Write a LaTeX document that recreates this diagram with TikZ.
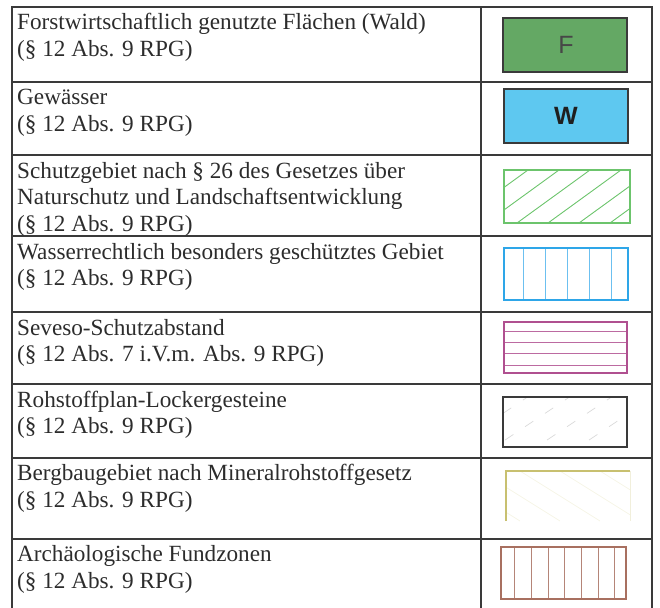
\documentclass[tikz,border=0pt]{standalone}
\usepackage{fontspec}
\setmainfont{Liberation Serif}
\newfontfamily\swfont{Liberation Sans}
\definecolor{ink}{HTML}{2C2C2C}
\definecolor{frame}{HTML}{3A3A3A}
\definecolor{waldgreen}{HTML}{64A864}
\definecolor{wasserblue}{HTML}{5EC8F0}
\definecolor{hatchgreen}{HTML}{6CC46C}
\definecolor{wrblue}{HTML}{2EA6E8}
\definecolor{wrline}{HTML}{6CC0F0}
\definecolor{seveso}{HTML}{B05090}
\definecolor{bergbau}{HTML}{C8C070}
\definecolor{archbrown}{HTML}{A87060}
\begin{document}
\begin{tikzpicture}[x=1pt,y=-1pt,
  gridline/.style={draw=frame,line width=1.6pt},
  rowtext/.style={anchor=base west,inner sep=0pt,text=ink,font=\fontsize{23.2}{26.5}\selectfont},
  swatch/.style={line width=1.6pt},
  swletter/.style={font=\swfont\fontsize{25}{25}\selectfont,inner sep=0pt}]
\useasboundingbox (0,0) rectangle (660,607);
% table grid
\foreach \yy in {7,82,155,236,312,384,458,539}
  \draw[gridline] (12,\yy) -- (652,\yy);
\draw[gridline] (12,6.2) -- (12,610);
\draw[gridline] (481,6.2) -- (481,610);
\draw[gridline] (652,6.2) -- (652,610);
% texts
\node[rowtext] (t1) at (17,30) {\begin{tabular}[t]{@{}l@{}}Forstwirtschaftlich genutzte Flächen (Wald)\\(§ 12 Abs. 9 RPG)\end{tabular}};
\node[rowtext] (t2) at (17,105) {\begin{tabular}[t]{@{}l@{}}Gewässer\\(§ 12 Abs. 9 RPG)\end{tabular}};
\node[rowtext] (t3) at (17,178) {\begin{tabular}[t]{@{}l@{}}Schutzgebiet nach § 26 des Gesetzes über\\Naturschutz und Landschaftsentwicklung\\(§ 12 Abs. 9 RPG)\end{tabular}};
\node[rowtext] (t4) at (17,259) {\begin{tabular}[t]{@{}l@{}}Wasserrechtlich besonders geschütztes Gebiet\\(§ 12 Abs. 9 RPG)\end{tabular}};
\node[rowtext] (t5) at (17,335) {\begin{tabular}[t]{@{}l@{}}Seveso-Schutzabstand\\(§ 12 Abs. 7 i.V.m. Abs. 9 RPG)\end{tabular}};
\node[rowtext] (t6) at (17,407) {\begin{tabular}[t]{@{}l@{}}Rohstoffplan-Lockergesteine\\(§ 12 Abs. 9 RPG)\end{tabular}};
\node[rowtext] (t7) at (17,480.5) {\begin{tabular}[t]{@{}l@{}}Bergbaugebiet nach Mineralrohstoffgesetz\\(§ 12 Abs. 9 RPG)\end{tabular}};
\node[rowtext] (t8) at (17,561.5) {\begin{tabular}[t]{@{}l@{}}Archäologische Fundzonen\\(§ 12 Abs. 9 RPG)\end{tabular}};
% 1 Wald
\draw[swatch,draw=frame,fill=waldgreen] (503,18) rectangle (627,72);
\node[swletter,text=black!72] (sF) at (566,45) {F};
% 2 Gewaesser
\draw[swatch,draw=frame,fill=wasserblue] (504,89) rectangle (628,143);
\node[swletter,font=\swfont\bfseries\fontsize{25}{25}\selectfont,text=black!88] (sW) at (566,116) {W};
% 3 Schutzgebiet hatch
\begin{scope}
  \clip (504,170) rectangle (630,223);
  \foreach \k in {-3,...,4}
    \draw[hatchgreen,line width=0.9pt] (517+31*\k,223) -- (590+31*\k,170);
\end{scope}
\draw[swatch,draw=hatchgreen,line width=2pt] (504,170) rectangle (630,223);
% 4 Wasserrechtlich
\foreach \xx in {523,545,567,589,611}
  \draw[wrline,line width=1pt] (\xx,248) -- (\xx,300);
\draw[swatch,draw=wrblue,line width=2.2pt] (504,248) rectangle (628,300);
% 5 Seveso
\foreach \yy in {331,342,353,365}
  \draw[seveso!85,line width=0.8pt] (504,\yy) -- (627,\yy);
\draw[swatch,draw=seveso,line width=1.3pt] (504,322) rectangle (627,373);
% 6 Rohstoffplan
\begin{scope}
  \clip (503,397) rectangle (627,447);
  \foreach \k in {-2,...,3}
    \draw[black!15,line width=0.7pt,dash pattern=on 10pt off 14pt] (505+42*\k,440) -- (580+42*\k,390);
\end{scope}
\draw[swatch,draw=frame,line width=1.5pt] (503,397) rectangle (627,447);
% 7 Bergbau
\begin{scope}
  \clip (506,471) rectangle (630,521);
  \foreach \k in {-2,...,3}
    \draw[bergbau!18,line width=0.7pt] (480+40*\k,471) -- (560+40*\k,521);
\end{scope}
\draw[bergbau,line width=1.3pt] (506,521) -- (506,471) -- (630,471);
\draw[bergbau!25,line width=1pt] (630,471) -- (630,521);
% 8 Archaeologie
\foreach \xx in {514,531,548,564,581,598,614}
  \draw[archbrown!85,line width=1pt] (\xx,547) -- (\xx,599);
\draw[swatch,draw=archbrown,line width=1.8pt] (501,547) rectangle (626,599);
\end{tikzpicture}
\end{document}
